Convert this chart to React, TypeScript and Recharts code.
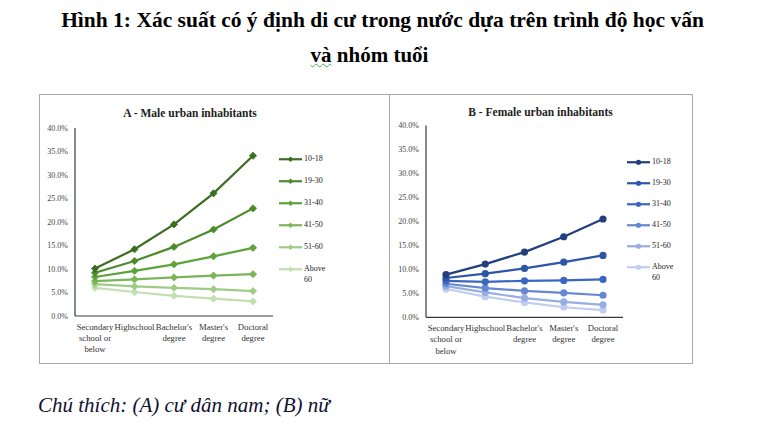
import React from 'react';
import { LineChart, Line, XAxis, YAxis, Legend } from 'recharts';

// Education levels on the x axis ("\n" marks a line break in the tick label)
const educationLevels = [
  'Secondary\nschool or\nbelow',
  'Highschool',
  "Bachelor's\ndegree",
  "Master's\ndegree",
  'Doctoral\ndegree',
];

const ageGroups = ['10-18', '19-30', '31-40', '41-50', '51-60', 'Above 60'];

const yTicks = [0, 5, 10, 15, 20, 25, 30, 35, 40];

// Male urban inhabitants, probability (%) by age group
const male1018 = [10.1, 14.2, 19.5, 26.1, 34.1];
const male1930 = [9.2, 11.7, 14.7, 18.4, 22.9];
const male3140 = [8.3, 9.6, 11.0, 12.7, 14.5];
const male4150 = [7.4, 7.8, 8.2, 8.6, 8.9];
const male5160 = [6.8, 6.3, 6.0, 5.7, 5.3];
const maleAbove60 = [6.0, 5.1, 4.3, 3.7, 3.1];

// Female urban inhabitants, probability (%) by age group
const female1018 = [8.9, 11.1, 13.6, 16.8, 20.5];
const female1930 = [8.2, 9.1, 10.2, 11.5, 12.9];
const female3140 = [7.6, 7.4, 7.6, 7.7, 7.9];
const female4150 = [7.0, 6.1, 5.5, 5.1, 4.6];
const female5160 = [6.5, 5.2, 4.0, 3.2, 2.6];
const femaleAbove60 = [5.9, 4.3, 3.1, 2.1, 1.5];

const greenShades = ['#3b6e22', '#4b8b2b', '#5ea33a', '#7ab55a', '#9fcb85', '#c3dfb2'];
const blueShades = ['#203f7c', '#2d56a6', '#3a67c0', '#6688d2', '#98ade0', '#c1cdee'];

const FONT = '"Liberation Serif", "DejaVu Serif", serif';

function buildRows(series: number[][]) {
  return educationLevels.map((level, i) => {
    const row: Record<string, string | number> = { level };
    series.forEach((s, k) => {
      row[`g${k}`] = s[i];
    });
    return row;
  });
}

const maleRows = buildRows([male1018, male1930, male3140, male4150, male5160, maleAbove60]);
const femaleRows = buildRows([female1018, female1930, female3140, female4150, female5160, femaleAbove60]);

const EduTick = (props: any) => {
  const { x, y, payload } = props;
  const lines = String(payload.value).split('\n');
  return (
    <text x={x} y={y} textAnchor="middle" fontFamily={FONT} fontSize={8.7} fill="#333">
      {lines.map((l, i) => (
        <tspan key={i} x={x} dy={i === 0 ? 13.7 : 11.3}>
          {l}
        </tspan>
      ))}
    </text>
  );
};

const makeDiamondDot = (color: string) => (props: any) => {
  const { cx, cy, index } = props;
  if (cx == null || cy == null) return <g key={index} />;
  const s = 3.6;
  return (
    <polygon
      key={index}
      points={`${cx},${cy - s} ${cx + s},${cy} ${cx},${cy + s} ${cx - s},${cy}`}
      fill={color}
      stroke={color}
      strokeWidth={0.8}
    />
  );
};

const makeCircleDot = (color: string) => (props: any) => {
  const { cx, cy, index } = props;
  if (cx == null || cy == null) return <g key={index} />;
  return <circle key={index} cx={cx} cy={cy} r={3.6} fill={color} />;
};

type LegendProps = { colors: string[]; marker: 'diamond' | 'circle'; rowHeight: number };

const AgeLegend = ({ colors, marker, rowHeight }: LegendProps) => (
  <div style={{ fontFamily: FONT, fontSize: 8, color: '#222' }}>
    {ageGroups.map((g, i) => (
      <div key={g} style={{ display: 'flex', alignItems: 'flex-start', height: rowHeight }}>
        <svg width={24} height={10.5} style={{ display: 'block' }}>
          <line x1={0} y1={5.25} x2={23} y2={5.25} stroke={colors[i]} strokeWidth={2.2} />
          {marker === 'diamond' ? (
            <polygon points="11.5,2.5 14.25,5.25 11.5,8 8.75,5.25" fill={colors[i]} />
          ) : (
            <circle cx={11.5} cy={5.25} r={2.6} fill={colors[i]} />
          )}
        </svg>
        <div style={{ width: 26, lineHeight: '10.5px', marginLeft: 1 }}>{g}</div>
      </div>
    ))}
  </div>
);

type PanelProps = {
  rows: Record<string, string | number>[];
  colors: string[];
  marker: 'diamond' | 'circle';
  width: number;
  height: number;
  margin: { top: number; right: number; bottom: number; left: number };
  legendPos: { left: number; top: number };
  rowHeight: number;
};

const Panel = ({ rows, colors, marker, width, height, margin, legendPos, rowHeight }: PanelProps) => (
  <LineChart width={width} height={height} data={rows} margin={margin}>
    <XAxis
      dataKey="level"
      interval={0}
      height={40}
      padding={{ left: 20, right: 20 }}
      tickLine={false}
      tickSize={0}
      tickMargin={0}
      axisLine={{ stroke: '#3a3a3a', strokeWidth: 1.2 }}
      tick={<EduTick />}
    />
    <XAxis xAxisId="top" orientation="top" dataKey="level" height={0} tick={false} tickLine={false} axisLine={{ stroke: '#3a3a3a', strokeWidth: 1.2 }} />
    <YAxis
      width={36}
      domain={[0, 40]}
      ticks={yTicks}
      interval={0}
      tickLine={false}
      tickSize={0}
      tickMargin={7}
      axisLine={{ stroke: '#3a3a3a', strokeWidth: 1.2 }}
      tickFormatter={(v: number) => `${v.toFixed(1)}%`}
      tick={{ fontFamily: FONT, fontSize: 8, fill: '#444' }}
    />
    <YAxis yAxisId="right" orientation="right" width={0} domain={[0, 40]} tick={false} tickLine={false} axisLine={{ stroke: '#3a3a3a', strokeWidth: 1.2 }} />
    <Legend
      layout="vertical"
      align="center"
      verticalAlign="middle"
      wrapperStyle={{ position: 'absolute', left: legendPos.left, top: legendPos.top, width: 60 }}
      content={() => <AgeLegend colors={colors} marker={marker} rowHeight={rowHeight} />}
    />
    {ageGroups.map((g, k) => (
      <Line
        key={g}
        name={g}
        dataKey={`g${k}`}
        stroke={colors[k]}
        strokeWidth={2.2}
        dot={marker === 'diamond' ? makeDiamondDot(colors[k]) : makeCircleDot(colors[k])}
        activeDot={false}
        isAnimationActive={false}
      />
    )).reverse()}
  </LineChart>
);

export default function App() {
  return (
    <div
      style={{
        position: 'absolute',
        left: 0,
        top: 0,
        width: 763,
        height: 429,
        background: '#fff',
        overflow: 'hidden',
        fontFamily: FONT,
      }}
    >
      <div
        style={{
          position: 'absolute',
          left: 0,
          top: 7,
          width: 765,
          textAlign: 'center',
          fontWeight: 'bold',
          fontSize: 21.5,
          lineHeight: '26px',
          color: '#000',
        }}
      >
        Hình 1: Xác suất có ý định di cư trong nước dựa trên trình độ học vấn
      </div>
      <div
        style={{
          position: 'absolute',
          left: 0,
          top: 42,
          width: 739,
          textAlign: 'center',
          fontWeight: 'bold',
          fontSize: 21,
          lineHeight: '26px',
          color: '#000',
        }}
      >
        <span style={{ textDecoration: 'underline wavy #4caf50', textDecorationThickness: 1 }}>và</span> nhóm tuổi
      </div>

      {/* Panel A frame */}
      <div
        style={{
          position: 'absolute',
          left: 39,
          top: 94,
          width: 351,
          height: 270,
          boxSizing: 'border-box',
          border: '1.5px solid #aaa',
          borderRight: 'none',
        }}
      />
      {/* Panel B frame */}
      <div
        style={{
          position: 'absolute',
          left: 389,
          top: 94,
          width: 304,
          height: 270,
          boxSizing: 'border-box',
          border: '1.5px solid #aaa',
        }}
      />

      <div style={{ position: 'absolute', left: 39, top: 94 }}>
        <div
          style={{
            position: 'absolute',
            left: 0,
            top: 13,
            width: 302,
            textAlign: 'center',
            fontWeight: 'bold',
            fontSize: 11.5,
            color: '#222',
          }}
        >
          A - Male urban inhabitants
        </div>
        <Panel
          rows={maleRows}
          colors={greenShades}
          marker="diamond"
          width={351}
          height={270}
          margin={{ top: 34, right: 117, bottom: 8, left: 0 }}
          legendPos={{ left: 240, top: 60 }}
          rowHeight={22}
        />
      </div>

      <div style={{ position: 'absolute', left: 390, top: 94 }}>
        <div
          style={{
            position: 'absolute',
            left: 0,
            top: 12,
            width: 301,
            textAlign: 'center',
            fontWeight: 'bold',
            fontSize: 11.5,
            color: '#222',
          }}
        >
          B - Female urban inhabitants
        </div>
        <Panel
          rows={femaleRows}
          colors={blueShades}
          marker="circle"
          width={303}
          height={270}
          margin={{ top: 31.5, right: 70, bottom: 6.7, left: 0 }}
          legendPos={{ left: 237, top: 63.4 }}
          rowHeight={21}
        />
      </div>

      <div
        style={{
          position: 'absolute',
          left: 38,
          top: 392,
          fontStyle: 'italic',
          fontSize: 21,
          lineHeight: '26px',
          color: '#111133',
        }}
      >
        Chú thích: (A) cư dân nam; (B) nữ
      </div>
    </div>
  );
}
